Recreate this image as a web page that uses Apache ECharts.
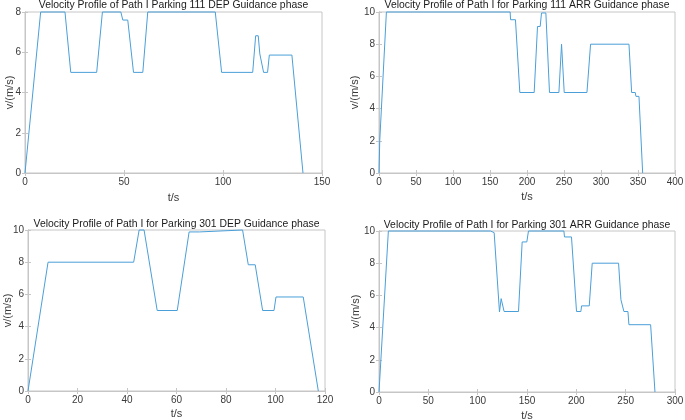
<!DOCTYPE html>
<html><head><meta charset="utf-8">
<script src="https://cdn.jsdelivr.net/npm/echarts@6/dist/echarts.min.js"></script>
<style>html,body{margin:0;padding:0;background:#fff}#c{width:685px;height:420px}</style>
</head><body><div id="c"></div>
<script>
// Chart 1: Path I Parking 111 DEP
var t1 = [0, 7.9, 20.2, 23.1, 36.2, 39.1, 48.4, 49.4, 51.9, 54.8, 59.5, 62, 96.1, 99.3, 115, 116.5, 117.8, 118.6, 119.5, 120.5, 122.5, 123.4, 134.8, 140.4];
var v1 = [0, 8, 8, 5, 5, 8, 8, 7.6, 7.6, 5, 5, 8, 8, 5, 5, 6.82, 6.82, 5.92, 5.87, 5, 5, 5.86, 5.86, 0];
// Chart 2: Path I Parking 111 ARR
var t2 = [0, 1, 10, 177.2, 177.8, 184.4, 190.3, 209.7, 214.2, 217.8, 219.6, 225.5, 230.4, 243.1, 246.7, 250.3, 281, 282.3, 285.9, 337.8, 341.4, 346.3, 347.2, 351.3, 356.3];
var v2 = [0, 2, 10, 10, 9.52, 9.52, 5, 5, 9.1, 9.1, 9.94, 9.94, 5, 5, 8, 5, 5, 5.78, 8, 8, 5, 5, 4.76, 4.76, 0];
// Chart 3: Path I Parking 301 DEP
var t3 = [0, 8.1, 42.7, 44.9, 46.9, 52.2, 60.3, 65.1, 69.2, 69.4, 86.7, 89, 91.8, 94.8, 99.4, 100.2, 111.2, 117.3];
var v3 = [0, 8, 8, 10, 10, 5, 5, 9.88, 9.88, 10, 10, 7.84, 7.84, 5, 5, 5.84, 5.84, 0];
// Chart 4: Path I Parking 301 ARR
var t4 = [0, 9.5, 113, 114, 116.7, 122.1, 123.8, 125.8, 126.8, 141.4, 145.1, 149.8, 151.5, 187.4, 188, 195.1, 200.2, 204.6, 205.3, 213.1, 216.1, 242.8, 245.2, 247.2, 248.2, 252.3, 253.3, 275.3, 279.7];
var v4 = [0, 10, 10, 9.9, 9.9, 4.97, 5.8, 5.8, 5, 5, 9.32, 9.32, 10, 10, 9.63, 9.63, 5, 5, 5.35, 5.35, 8, 8, 5.73, 5.73, 5, 5, 4.18, 4.18, 0];

var titles = [
  'Velocity Profile of Path I Parking 111 DEP Guidance phase',
  'Velocity Profile of Path I for Parking 111 ARR Guidance phase',
  'Velocity Profile of Path I for Parking 301 DEP Guidance phase',
  'Velocity Profile of Path I for Parking 301 ARR Guidance phase'
];
var xMax = [150, 400, 120, 300];
var xStep = [50, 50, 20, 50];
var yMax = [8, 10, 10, 10];
var yStep = [2, 2, 2, 2];
var xName = 't/s';
var yName = 'v/(m/s)';

var series = [[t1, v1], [t2, v2], [t3, v3], [t4, v4]];
var grids = [
  {left: 25, top: 12, width: 297, height: 161},
  {left: 379, top: 12, width: 296, height: 161},
  {left: 28, top: 230, width: 297, height: 161},
  {left: 379, top: 231, width: 296, height: 161}
];
var titleTop = [0, 0, 219, 220];
var yGap = [10, 19, 15, 18];
var xGap = [19, 18, 17, 18];
var FONT = 'Liberation Sans';
var axisCol = '#c6c6c6';
var txtCol = '#3a3a3a';

var opt = {animation: false, title: [], grid: [], xAxis: [], yAxis: [], series: []};
function axCommon() {
  return {
    axisLine: {show: true, lineStyle: {color: axisCol, width: 1}},
    axisTick: {show: true, inside: true, length: 3, lineStyle: {color: axisCol}},
    splitLine: {show: false}
  };
}
for (var i = 0; i < 4; i++) {
  var g = grids[i];
  opt.grid.push({left: g.left, top: g.top, width: g.width, height: g.height, show: true, borderColor: axisCol, borderWidth: 1,
    containLabel: false, outerBoundsMode: 'none'});
  opt.title.push({text: titles[i], left: g.left + g.width / 2, textAlign: 'center', top: titleTop[i], padding: 0,
    textStyle: {fontFamily: FONT, fontSize: 10.4, fontWeight: 'normal', color: '#1a1a1a'}});
  var xb = axCommon();
  Object.assign(xb, {type: 'value', gridIndex: i, position: 'bottom', min: 0, max: xMax[i], interval: xStep[i],
    name: xName, nameLocation: 'middle', nameGap: xGap[i], nameMoveOverlap: false,
    nameTextStyle: {fontFamily: FONT, fontSize: 11, color: txtCol},
    axisLabel: {fontFamily: FONT, fontSize: 10, color: txtCol, margin: 4}});
  opt.xAxis.push(xb);
  var xt = axCommon();
  Object.assign(xt, {type: 'value', gridIndex: i, position: 'top', min: 0, max: xMax[i], interval: xStep[i],
    axisLabel: {show: false}});
  opt.xAxis.push(xt);
  var yl = axCommon();
  Object.assign(yl, {type: 'value', gridIndex: i, position: 'left', min: 0, max: yMax[i], interval: yStep[i],
    name: yName, nameLocation: 'middle', nameGap: yGap[i], nameRotate: 90, nameMoveOverlap: false,
    nameTextStyle: {fontFamily: FONT, fontSize: 11, color: txtCol},
    axisLabel: {fontFamily: FONT, fontSize: 10, color: txtCol, margin: 4}});
  opt.yAxis.push(yl);
  var yr = axCommon();
  Object.assign(yr, {type: 'value', gridIndex: i, position: 'right', min: 0, max: yMax[i], interval: yStep[i],
    axisLabel: {show: false}});
  opt.yAxis.push(yr);

  var ts = series[i][0], vs = series[i][1], d = [];
  for (var k = 0; k < ts.length; k++) d.push([ts[k], vs[k]]);
  opt.series.push({type: 'line', xAxisIndex: 2 * i, yAxisIndex: 2 * i, data: d, symbol: 'none',
    lineStyle: {color: '#4a9fd8', width: 1}, clip: false});
}
var chart = echarts.init(document.getElementById('c'), null, {renderer: 'canvas'});
chart.setOption(opt);
</script>
</body></html>
